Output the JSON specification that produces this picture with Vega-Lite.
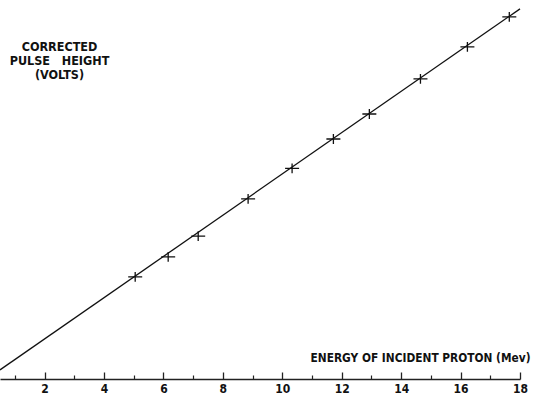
{
  "$schema": "https://vega.github.io/schema/vega-lite/v6.json",
  "width": 520,
  "height": 379,
  "autosize": {"type": "none"},
  "padding": {"top": 0, "left": 0, "right": 13, "bottom": 15},
  "background": "white",
  "config": {"view": {"stroke": null}},
  "datasets": {
    "points": [
      {"energy": 5.05, "pulse": 4.94},
      {"energy": 6.16, "pulse": 5.91},
      {"energy": 7.17, "pulse": 6.92},
      {"energy": 8.85, "pulse": 8.72},
      {"energy": 10.33, "pulse": 10.2},
      {"energy": 11.72, "pulse": 11.62},
      {"energy": 12.93, "pulse": 12.83},
      {"energy": 14.65, "pulse": 14.53},
      {"energy": 16.23, "pulse": 16.08},
      {"energy": 17.64, "pulse": 17.53}
    ],
    "fit": [
      {"energy": 0.5, "pulse": 0.44},
      {"energy": 18.0, "pulse": 17.92}
    ]
  },
  "resolve": {"axis": {"x": "independent"}},
  "layer": [
    {
      "data": {"name": "fit"},
      "mark": {"type": "line", "color": "#111", "strokeWidth": 1.3},
      "encoding": {
        "x": {
          "field": "energy", "type": "quantitative",
          "scale": {"domain": [0.5, 18], "nice": false, "zero": false},
          "axis": {
            "orient": "bottom",
            "values": [2,4,6,8,10,12,14,16,18],
            "grid": false,
            "domainColor": "#222",
            "domainWidth": 1.5,
            "tickColor": "#222",
            "tickWidth": 1.3,
            "tickSize": -7,
            "labelFont": "DejaVu Sans Condensed",
            "labelFontWeight": "bold",
            "labelFontSize": 12,
            "labelColor": "#111",
            "labelPadding": 11,
            "labelFlush": false,
            "labelOverlap": false,
            "title": "ENERGY OF INCIDENT PROTON (Mev)",
            "titleFont": "DejaVu Sans Condensed",
            "titleFontWeight": "bold",
            "titleFontSize": 11.8,
            "titleColor": "#111",
            "titleAlign": "center",
            "titleBaseline": "middle",
            "titleX": 420,
            "titleY": -22
          }
        },
        "y": {
          "field": "pulse", "type": "quantitative",
          "scale": {"domain": [0, 18.35], "nice": false, "zero": false},
          "axis": {
            "domain": false, "ticks": false, "labels": false, "grid": false,
            "title": ["CORRECTED", "PULSE\u00a0\u00a0\u00a0HEIGHT", "(VOLTS)"],
            "titleAngle": 0,
            "titleFont": "DejaVu Sans Condensed",
            "titleFontWeight": "bold",
            "titleFontSize": 12.5,
            "titleColor": "#111",
            "titleAlign": "center",
            "titleBaseline": "middle",
            "titleLineHeight": 14,
            "titleX": 59,
            "titleY": 46
          }
        }
      }
    },
    {
      "data": {"name": "points"},
      "mark": {
        "type": "point",
        "shape": "M-1,0H1M0,-0.7V0.7",
        "size": 196,
        "filled": false,
        "stroke": "#111",
        "strokeWidth": 1.3,
        "opacity": 1
      },
      "encoding": {
        "x": {
          "field": "energy", "type": "quantitative",
          "axis": {
            "orient": "bottom",
            "values": [1,3,5,7,9,11,13,15,17],
            "grid": false,
            "domain": false,
            "labels": false,
            "title": null,
            "tickColor": "#222",
            "tickWidth": 1.2,
            "tickSize": -4
          }
        },
        "y": {"field": "pulse", "type": "quantitative"}
      }
    }
  ]
}
